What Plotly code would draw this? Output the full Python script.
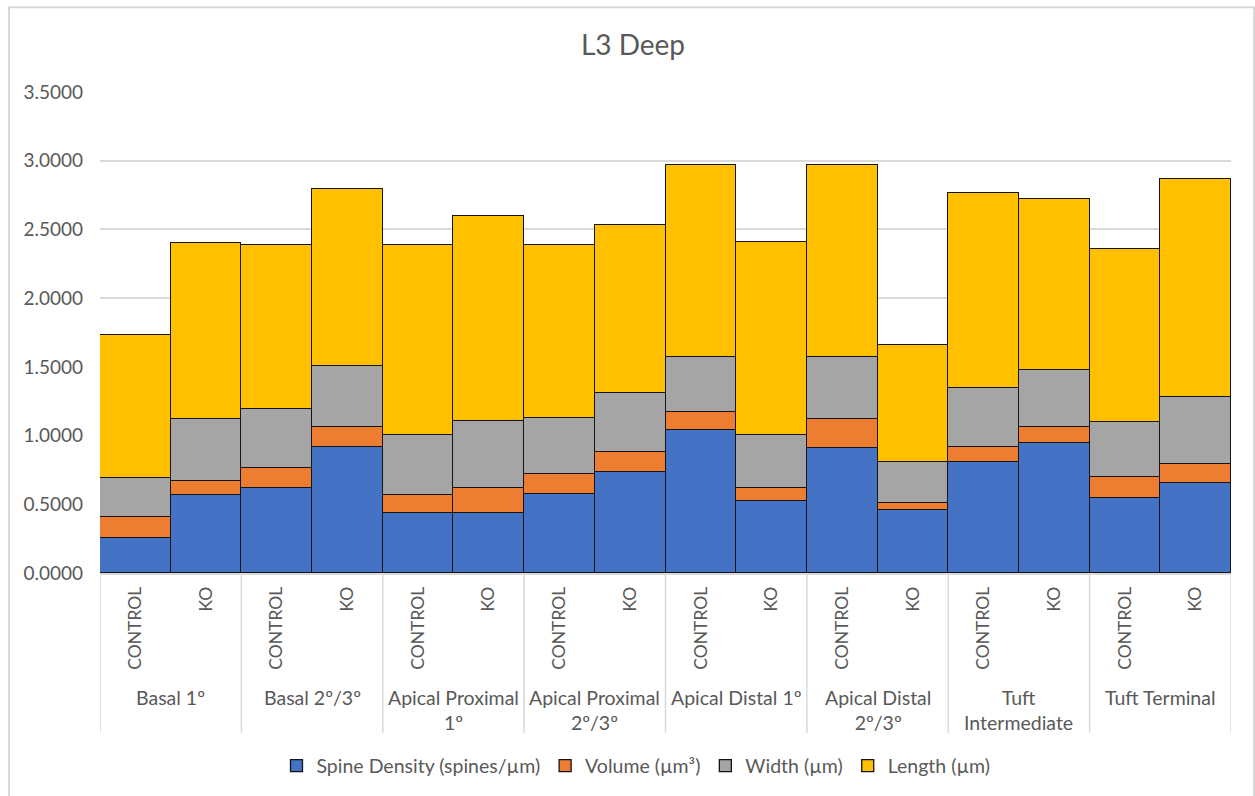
import plotly.graph_objects as go

# Dendritic segments and genotype per segment
segments = ["Basal 1º", "Basal 2º/3º", "Apical Proximal<br>1º", "Apical Proximal<br>2º/3º",
            "Apical Distal 1º", "Apical Distal<br>2º/3º", "Tuft<br>Intermediate", "Tuft Terminal"]
genotypes = ["CONTROL", "KO"]

# Stacked components (one value per bar, CONTROL/KO alternating per segment)
spine_density = [0.256, 0.571, 0.615, 0.919, 0.433, 0.440, 0.576, 0.735,
                 1.038, 0.527, 0.912, 0.457, 0.808, 0.943, 0.544, 0.658]
volume = [0.153, 0.102, 0.147, 0.143, 0.135, 0.175, 0.142, 0.145,
          0.135, 0.088, 0.206, 0.049, 0.111, 0.119, 0.155, 0.138]
width = [0.280, 0.445, 0.428, 0.447, 0.438, 0.488, 0.407, 0.431,
         0.402, 0.386, 0.457, 0.305, 0.424, 0.416, 0.397, 0.483]
length = [1.040, 1.282, 1.195, 1.287, 1.379, 1.495, 1.260, 1.224,
          1.391, 1.406, 1.391, 0.849, 1.422, 1.241, 1.263, 1.585]

series = [
    ("Spine Density (spines/µm)", spine_density, "#4472C4"),
    ("Volume (µm³)", volume, "#ED7D31"),
    ("Width (µm)", width, "#A5A5A5"),
    ("Length (µm)", length, "#FFC000"),
]

FONT = "Lato"
TXT = "#595959"
GRID = "#D9D9D9"

n_bars = len(segments) * len(genotypes)
xpos = list(range(n_bars))
ticktext = [g for _ in segments for g in genotypes]

fig = go.Figure()
for name, vals, color in series:
    fig.add_trace(go.Bar(
        x=xpos, y=vals, name=name, width=1.0,
        marker=dict(color=color, line=dict(color="#141414", width=1.3)),
    ))

# Figure geometry (pixels)
W, H = 1255, 796
L, R, T, B = 100, 24, 92, 222
plot_h = H - T - B

def py(pix):
    """Convert a pixel row to paper y coordinate."""
    return (H - B - pix) / plot_h

def px(pix):
    """Convert a pixel column to paper x coordinate."""
    return (pix - L) / (W - L - R)

shapes = []
# group dividers below the axis
for k in range(len(segments) + 1):
    shapes.append(dict(type="line", xref="x", yref="paper",
                       x0=k * 2 - 0.5, x1=k * 2 - 0.5, y0=0, y1=py(734),
                       line=dict(color=GRID, width=1.5), layer="below"))
# outer chart border
shapes.append(dict(type="rect", xref="paper", yref="paper",
                   x0=px(9), x1=px(1254), y0=py(805), y1=py(7),
                   line=dict(color=GRID, width=2), fillcolor="rgba(0,0,0,0)"))

annotations = []
for k, seg in enumerate(segments):
    annotations.append(dict(
        x=k * 2 + 0.5, xref="x", y=py(685), yref="paper",
        text=seg, showarrow=False, xanchor="center", yanchor="top",
        align="center", font=dict(family=FONT, size=19.5, color=TXT),
    ))

fig.update_layout(
    width=W, height=H,
    margin=dict(l=L, r=R, t=T, b=B, pad=0),
    paper_bgcolor="white", plot_bgcolor="white",
    barmode="stack", bargap=0,
    title=dict(text="L3 Deep", x=px(633), xref="paper", xanchor="center",
               y=1 - 45 / H, yanchor="middle",
               font=dict(family=FONT, size=28, color=TXT)),
    font=dict(family=FONT, size=19, color=TXT),
    xaxis=dict(
        range=[-0.5, n_bars - 0.5], tickmode="array", tickvals=xpos, ticktext=ticktext,
        tickangle=-90, showgrid=False, zeroline=False,
        showline=True, linecolor=GRID, linewidth=1.5, ticks="",
        ticklabelstandoff=5, tickfont=dict(family=FONT, size=17.5, color=TXT),
    ),
    yaxis=dict(
        range=[0, 3.5], tick0=0, dtick=0.5, tickformat=".4f",
        showgrid=True, gridcolor=GRID, gridwidth=1.5, zeroline=False,
        showline=False, ticks="", ticklabelstandoff=16,
        tickfont=dict(family=FONT, size=19, color=TXT),
    ),
    legend=dict(orientation="h", traceorder="normal", x=px(636), xanchor="center",
                y=py(766), yanchor="middle", font=dict(family=FONT, size=19.5, color=TXT),
                itemwidth=30, bgcolor="rgba(0,0,0,0)"),
    shapes=shapes, annotations=annotations,
    showlegend=True,
)

fig.write_html("out.html")
